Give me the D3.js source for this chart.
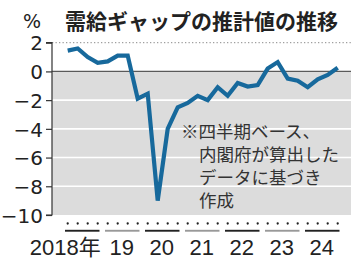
<!DOCTYPE html>
<html><head><meta charset="utf-8">
<script src="https://cdn.jsdelivr.net/npm/d3@7"></script>
<style>
html,body{margin:0;padding:0;background:#fff;}
svg{display:block;}
</style></head>
<body>
<script>
const yearLabels = ["2018年","19","20","21","22","23","24"];
const quarterLabels = ["2018Q1","2018Q2","2018Q3","2018Q4","2019Q1","2019Q2","2019Q3","2019Q4",
  "2020Q1","2020Q2","2020Q3","2020Q4","2021Q1","2021Q2","2021Q3","2021Q4",
  "2022Q1","2022Q2","2022Q3","2022Q4","2023Q1","2023Q2","2023Q3","2023Q4",
  "2024Q1","2024Q2","2024Q3","2024Q4"];
const gapValues = [1.45, 1.6, 1.0, 0.6, 0.7, 1.1, 1.1, -1.9,
  -1.55, -9.0, -4.0, -2.5, -2.2, -1.7, -2.0, -1.1,
  -1.7, -0.8, -1.05, -0.95, 0.2, 0.65, -0.5, -0.65,
  -1.1, -0.55, -0.25, 0.25];
const yTicks = [2, 0, -2, -4, -6, -8, -10];
const titleText = "需給ギャップの推計値の推移";
const unitText = "%";
const noteLines = ["※四半期ベース、", "内閣府が算出した", "データに基づき", "作成"];

const W = 360, H = 267;
const svg = d3.select("body").append("svg").attr("width", W).attr("height", H);

const plotLeft = 52, plotRight = 351;
const x = d3.scaleLinear().domain([0, quarterLabels.length - 1]).range([67.7, 337.7]);
const y = d3.scaleLinear().domain([-10, 2]).range([215, 42.7]);

// gray background below zero
svg.append("rect").attr("x", plotLeft).attr("y", y(0))
  .attr("width", plotRight - plotLeft).attr("height", y(-10) - y(0))
  .attr("fill", "#dcdcdc");

// grid lines
yTicks.forEach(t => {
  if (t === 0 || t === -10) return;
  const g = svg.append("line").attr("x1", plotLeft).attr("x2", plotRight)
    .attr("y1", y(t)).attr("y2", y(t));
  if (t === 2) g.attr("stroke", "#888").attr("stroke-width", 1).attr("stroke-dasharray", "1.3,2.2");
  else g.attr("stroke", "#fff").attr("stroke-width", 1.6);
});
// zero line
svg.append("line").attr("x1", plotLeft).attr("x2", plotRight)
  .attr("y1", y(0)).attr("y2", y(0)).attr("stroke", "#5a5a5a").attr("stroke-width", 1.3);

// note text
const note = svg.append("g").attr("fill", "#333")
  .style("font-family", "'Noto Sans CJK JP', sans-serif").style("font-size", "17.5px");
noteLines.forEach((s, i) => {
  note.append("text").attr("x", i === 0 ? 181 : 199).attr("y", 137.5 + i * 23).text(s);
});

// y axis
const yAxis = d3.axisLeft(y).tickValues(yTicks).tickSize(6).tickPadding(3)
  .tickFormat(d => d < 0 ? "\u2212" + Math.abs(d) : String(d));
const ya = svg.append("g").attr("transform", `translate(${plotLeft},0)`).call(yAxis);
ya.select(".domain").attr("stroke", "#333").attr("stroke-width", 1.2).attr("d", `M-6,${y(2)}H0V${y(-10)}H-6`);
ya.selectAll(".tick line").attr("stroke", "#333").attr("stroke-width", 1.2);
ya.selectAll(".tick text").attr("fill", "#222")
  .style("font-family", "'DejaVu Sans', sans-serif").style("font-size", "20px").attr("dy", "0.36em");

// line
const line = d3.line().x((d, i) => x(i)).y(d => y(d));
svg.append("path").datum(gapValues).attr("d", line)
  .attr("fill", "none").attr("stroke", "#17699c").attr("stroke-width", 4.2)
  .attr("stroke-linejoin", "miter").attr("stroke-miterlimit", 3);

// x axis: quarter dots
svg.append("g").selectAll("circle").data(quarterLabels).join("circle")
  .attr("cx", (d, i) => x(i)).attr("cy", 223.5).attr("r", 1.15).attr("fill", "#222");
// year underlines
svg.append("g").selectAll("rect").data(yearLabels).join("rect")
  .attr("x", (d, i) => x(i * 4) - 2.7)
  .attr("width", (d, i) => x(i * 4 + 3) - x(i * 4) + 4.5)
  .attr("y", 229.8).attr("height", 1.9)
  .attr("fill", (d, i) => i % 2 === 0 ? "#222" : "#999");
// year labels
svg.append("g").selectAll("text").data(yearLabels).join("text")
  .attr("x", (d, i) => i === 0 ? x(i * 4 + 1.5) + 18 : x(i * 4 + 1.5) - 1)
  .attr("y", 255)
  .attr("text-anchor", (d, i) => i === 0 ? "end" : "middle")
  .attr("fill", "#222")
  .style("font-family", "'Liberation Sans', 'Noto Sans CJK JP', sans-serif")
  .style("font-size", "22px")
  .text(d => d);

// unit and title
svg.append("text").attr("x", 23).attr("y", 28).attr("fill", "#222")
  .style("font-family", "'DejaVu Sans', sans-serif").style("font-size", "19px").text(unitText);
svg.append("text").attr("x", 65).attr("y", 29).attr("fill", "#222")
  .style("font-family", "'Noto Sans CJK JP', sans-serif").style("font-size", "21px")
  .style("font-weight", "bold").text(titleText);
</script>
</body></html>
